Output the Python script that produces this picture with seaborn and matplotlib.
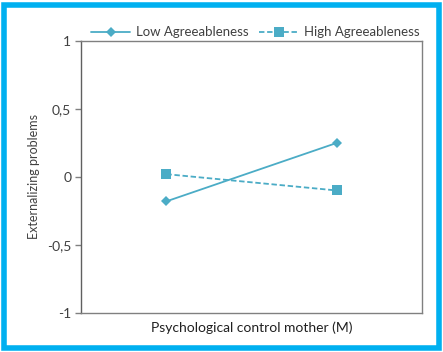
import matplotlib
matplotlib.use("Agg")
import matplotlib.pyplot as plt
import seaborn as sns
import pandas as pd
from matplotlib.patches import Rectangle

levels = ["Low", "High"]
low_agree = [-0.18, 0.25]
high_agree = [0.02, -0.10]
series_names = ["Low Agreeableness", "High Agreeableness"]
yticks = [-1, -0.5, 0, 0.5, 1]
ytick_labels = ["-1", "-0,5", "0", "0,5", "1"]

sns.set_theme(style="white")
plt.rcParams['font.family'] = ['Lato', 'DejaVu Sans']

df = pd.DataFrame({
    "x": [0, 1, 0, 1],
    "y": low_agree + high_agree,
    "series": [series_names[0]] * 2 + [series_names[1]] * 2,
})

fig = plt.figure(figsize=(4.43, 3.52), dpi=100)
ax = fig.add_axes([0.183, 0.111, 0.77, 0.773])
color = "#4BACC6"
sns.lineplot(data=df, x="x", y="y", hue="series", style="series",
             markers={series_names[0]: "D", series_names[1]: "s"},
             dashes={series_names[0]: "", series_names[1]: (3, 1.5)},
             palette={series_names[0]: color, series_names[1]: color},
             markersize=6, linewidth=1.3, markeredgewidth=0, ax=ax, legend=True)
for line in ax.get_lines():
    if line.get_marker() == "D":
        line.set_markersize(5)
    elif line.get_marker() == "s":
        line.set_markersize(7)

ax.set_xlim(-0.5, 1.5)
ax.set_ylim(-1, 1)
ax.set_xticks([])
ax.set_yticks(yticks)
ax.set_yticklabels(ytick_labels, fontsize=10, color="#404040")
ax.tick_params(axis="y", left=True, length=4, width=1, color="#808080", pad=3)
for s in ax.spines.values():
    s.set_color("#808080")
    s.set_linewidth(1)
ax.spines["left"].set_color("#606060")
ax.set_xlabel("Psychological control mother (M)", fontsize=10, color="#202020", labelpad=6)
ax.set_ylabel("Externalizing problems", fontsize=9, color="#404040", labelpad=5)

handles, labels = ax.get_legend_handles_labels()
for h in handles:
    if h.get_marker() == "D":
        h.set_markersize(5)
    else:
        h.set_markersize(7)
ax.legend(handles, labels, loc="lower center", bbox_to_anchor=(0.51, 0.99), ncol=2,
          frameon=False, fontsize=9.5, handlelength=3.0, columnspacing=0.8,
          handletextpad=0.4, borderaxespad=0, labelcolor="#404040")

fig.patches.append(Rectangle((0.008, 0.012), 0.984, 0.975, transform=fig.transFigure,
                             fill=False, edgecolor="#00B0F0", linewidth=4, zorder=10))
fig.savefig("out.png", dpi=100)
